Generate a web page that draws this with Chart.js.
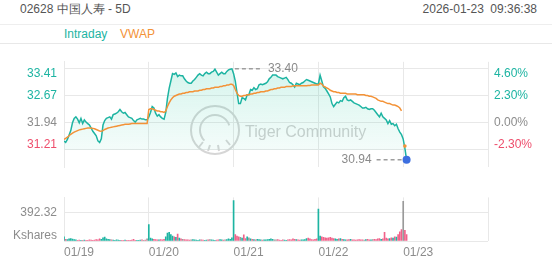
<!DOCTYPE html>
<html>
<head>
<meta charset="utf-8">
<script src="https://cdn.jsdelivr.net/npm/chart.js@4.4.1/dist/chart.umd.min.js"></script>
<style>
  body { margin: 0; width: 552px; height: 265px; background: #fff; position: relative; overflow: hidden;
         font-family: "Liberation Sans", Arial, sans-serif; }
  .rule { position: absolute; left: 0; width: 552px; height: 1px; }
  .txt { position: absolute; font-size: 12px; line-height: 14px; white-space: nowrap; }
  #price { position: absolute; left: 0; top: 44px; }
  #vol { position: absolute; left: 0; top: 185px; }
</style>
</head>
<body>
<div class="txt" style="left:20px;top:2px;color:#555">02628 中国人寿 - 5D</div>
<div class="txt" style="right:15px;top:2px;color:#555;word-spacing:3px">2026-01-23 09:36:38</div>
<div class="rule" style="top:24px;background:#eee"></div>
<div class="txt" style="left:64px;top:27px;color:#1db4a2">Intraday</div>
<div class="txt" style="left:120px;top:27px;color:#f39237">VWAP</div>
<div class="rule" style="top:43px;background:#e8e8e8"></div>
<canvas id="price" width="552" height="141"></canvas>
<canvas id="vol" width="552" height="80"></canvas>
<script>
const dayLabels = ['01/19', '01/20', '01/21', '01/22', '01/23'];
const prevClose = 31.94;
const pctTicks = [-2.3, 0, 2.3, 4.6];
const volumeTick = 392.32;
// side of the opening bar of each day
const openSide = ['up', 'up', 'up', 'up', 'flat'];

// 50 slots per day
const intraday = [
  // 01/19
  31.45, 31.41, 31.49, 31.61, 31.73, 31.94, 32.06, 32.10, 32.04, 31.94,
  32.06, 31.92, 32.02, 31.96, 31.92, 31.88, 31.80, 31.71, 31.65, 31.59,
  31.45, 31.41, 31.51, 31.88, 32.00, 32.06, 32.08, 32.10, 32.04, 32.16,
  32.18, 32.20, 32.24, 32.30, 32.24, 32.20, 32.22, 32.16, 32.10, 32.08,
  32.06, 32.00, 31.96, 32.02, 32.04, 32.06, 32.04, 32.04, 32.02, 32.02,
  // 01/20
  32.10, 32.22, 32.38, 32.34, 32.20, 32.12, 32.16, 32.10, 32.06, 32.04,
  32.22, 32.60, 32.87, 33.07, 33.27, 33.25, 33.29, 33.19, 33.23, 33.21,
  33.21, 33.13, 33.07, 33.03, 33.01, 33.01, 33.07, 33.11, 33.17, 33.23,
  33.27, 33.23, 33.21, 33.27, 33.31, 33.27, 33.27, 33.31, 33.33, 33.39,
  33.31, 33.23, 33.27, 33.31, 33.27, 33.27, 33.33, 33.37, 33.39, 33.40,
  // 01/21
  33.27, 33.07, 32.76, 32.46, 32.46, 32.62, 32.60, 32.56, 32.70, 32.70,
  32.84, 32.82, 32.89, 32.84, 32.86, 32.97, 32.99, 32.97, 32.99, 33.01,
  33.05, 33.13, 33.17, 33.23, 33.23, 33.23, 33.19, 33.17, 33.15, 33.13,
  33.15, 33.17, 33.11, 33.03, 33.01, 32.97, 32.91, 33.01, 32.99, 32.97,
  33.01, 33.03, 33.07, 33.11, 33.09, 33.07, 33.05, 33.03, 33.01, 32.99,
  // 01/22
  32.99, 33.23, 33.07, 32.91, 32.87, 32.80, 32.72, 32.64, 32.46, 32.38,
  32.44, 32.50, 32.48, 32.54, 32.52, 32.62, 32.66, 32.56, 32.54, 32.56,
  32.52, 32.48, 32.46, 32.44, 32.42, 32.38, 32.34, 32.34, 32.36, 32.32,
  32.30, 32.32, 32.32, 32.28, 32.22, 32.16, 32.10, 32.20, 32.10, 32.06,
  32.02, 31.92, 32.00, 31.90, 31.92, 31.86, 31.90, 31.78, 31.69, 31.62,
  // 01/23
  31.50, 31.25, 30.94
];

const vwap = [
  31.49, 31.52, 31.55, 31.59, 31.63, 31.66, 31.69, 31.71, 31.73, 31.75,
  31.76, 31.77, 31.78, 31.79, 31.80, 31.80, 31.80, 31.79, 31.78, 31.76,
  31.74, 31.72, 31.71, 31.73, 31.76, 31.78, 31.80, 31.81, 31.82, 31.83,
  31.84, 31.85, 31.86, 31.87, 31.88, 31.89, 31.90, 31.90, 31.90, 31.91,
  31.92, 31.92, 31.92, 31.92, 31.92, 31.92, 31.92, 31.92, 31.92, 31.92,

  32.30, 32.32, 32.32, 32.30, 32.28, 32.26, 32.26, 32.24, 32.24, 32.22,
  32.26, 32.38, 32.48, 32.56, 32.62, 32.66, 32.68, 32.70, 32.72, 32.72,
  32.74, 32.74, 32.76, 32.76, 32.78, 32.78, 32.78, 32.80, 32.80, 32.80,
  32.82, 32.82, 32.84, 32.84, 32.86, 32.86, 32.86, 32.88, 32.88, 32.90,
  32.90, 32.90, 32.92, 32.92, 32.94, 32.94, 32.96, 32.96, 32.98, 32.98,

  32.95, 32.84, 32.74, 32.68, 32.66, 32.66, 32.68, 32.68, 32.70, 32.70,
  32.72, 32.72, 32.74, 32.74, 32.76, 32.76, 32.78, 32.78, 32.78, 32.80,
  32.80, 32.82, 32.84, 32.84, 32.86, 32.86, 32.88, 32.88, 32.90, 32.90,
  32.90, 32.92, 32.92, 32.92, 32.92, 32.94, 32.94, 32.94, 32.94, 32.94,
  32.94, 32.94, 32.94, 32.94, 32.95, 32.95, 32.96, 32.96, 32.96, 32.96,

  32.96, 33.01, 32.99, 32.93, 32.91, 32.88, 32.86, 32.82, 32.80, 32.78,
  32.78, 32.76, 32.76, 32.74, 32.74, 32.74, 32.74, 32.72, 32.72, 32.72,
  32.72, 32.72, 32.72, 32.70, 32.70, 32.70, 32.70, 32.70, 32.68, 32.68,
  32.66, 32.66, 32.64, 32.62, 32.60, 32.56, 32.54, 32.52, 32.52, 32.50,
  32.48, 32.46, 32.46, 32.44, 32.42, 32.42, 32.40, 32.38, 32.34, 32.26,

  null, 31.31, null
];

// Kshares
const volume = [
  60, 25, 20, 30, 35, 28, 20, 15, 10, 12, 8, 10, 12, 8, 10, 15, 12, 10, 14, 20,
  18, 30, 25, 45, 55, 30, 25, 20, 15, 12, 10, 15, 12, 10, 8, 10, 12, 10, 8, 10,
  12, 25, 10, 8, 10, 12, 15, 10, 12, 30,

  229, 40, 30, 25, 20, 18, 15, 20, 18, 25, 60, 110, 120, 90, 70, 60, 50, 98, 40, 30,
  25, 20, 18, 15, 12, 15, 20, 15, 12, 10, 15, 18, 12, 10, 12, 15, 20, 15, 12, 10,
  12, 15, 20, 18, 12, 15, 20, 30, 25, 45,

  567, 90, 70, 60, 50, 40, 87, 35, 60, 45, 30, 25, 20, 18, 25, 20, 15, 12, 18, 15,
  20, 25, 30, 22, 18, 15, 20, 12, 10, 15, 12, 10, 15, 20, 18, 30, 25, 20, 15, 12,
  18, 15, 20, 35, 40, 30, 20, 15, 25, 30,

  447, 70, 60, 50, 45, 40, 45, 50, 40, 35, 30, 25, 30, 35, 25, 20, 18, 15, 20, 25,
  18, 15, 12, 15, 20, 18, 15, 12, 20, 25, 18, 15, 20, 25, 20, 30, 35, 25, 30, 120,
  40, 30, 35, 45, 40, 60, 55, 90, 130, 160,

  556, 150, 90
];

const SLOTS = 50;
const TEAL = '#1db4a2', RED = '#ee4e6c', GREY = '#8c8c8c', ORANGE = '#f39237', GRID = '#e8e8e8';
const FONT = '"Liberation Sans", Arial, sans-serif';
Chart.defaults.font.family = FONT;
Chart.defaults.font.size = 12;

const lastIdx = intraday.length - 1;
const xMax = dayLabels.length * SLOTS;
const dayTicks = dayLabels.map((d, i) => i * SLOTS).concat([xMax]);
const priceTicks = pctTicks.map(p => prevClose * (1 + p / 100));
const sideColor = s => s === 'up' ? TEAL : s === 'down' ? '#f0628a' : '#9a9a9a';
const tickColor = i => pctTicks[i] > 0 ? TEAL : pctTicks[i] < 0 ? RED : GREY;

function edgeLabel(text, i, n) {
  if (i === 0) return [text, ''];
  if (i === n - 1) return ['', text];
  return text;
}

function barColor(i) {
  if (i % SLOTS === 0) return sideColor(openSide[Math.floor(i / SLOTS)]);
  const d = intraday[i] - intraday[i - 1];
  return sideColor(d > 0 ? 'up' : d < 0 ? 'down' : 'flat');
}

const watermark = {
  id: 'watermark',
  beforeDatasetsDraw(chart) {
    const c = chart.ctx;
    c.save();
    c.strokeStyle = '#d6d6d6';
    c.lineWidth = 2;
    c.beginPath();
    c.arc(215, 86, 24, 0, Math.PI * 2);
    c.stroke();
    c.beginPath();
    c.arc(215, 86, 15, Math.PI * 0.75, Math.PI * 1.9);
    c.stroke();
    c.beginPath();
    c.moveTo(203, 98); c.lineTo(199, 103);
    c.moveTo(210, 101); c.lineTo(208, 107);
    c.moveTo(218, 101); c.lineTo(219, 107);
    c.moveTo(226, 96); c.lineTo(230, 101);
    c.stroke();
    c.fillStyle = '#d0d0d0';
    c.font = '16px ' + FONT;
    c.textBaseline = 'middle';
    c.fillText('Tiger Community', 245, 89);
    c.restore();
  }
};

const markers = {
  id: 'markers',
  afterDatasetsDraw(chart) {
    const { ctx: c, scales: { x, y } } = chart;
    let maxI = 0;
    intraday.forEach((v, i) => { if (v > intraday[maxI]) maxI = i; });
    c.save();
    c.strokeStyle = '#9e9e9e';
    c.lineWidth = 1.5;
    c.setLineDash([4, 3]);
    c.fillStyle = '#8a8a8a';
    c.font = '12px ' + FONT;
    c.textBaseline = 'middle';

    const mx = x.getPixelForValue(maxI), my = y.getPixelForValue(intraday[maxI]);
    c.beginPath(); c.moveTo(mx + 3, my); c.lineTo(mx + 31, my); c.stroke();
    c.textAlign = 'left';
    c.fillText(intraday[maxI].toFixed(2), mx + 36, my);

    const lx = x.getPixelForValue(lastIdx), ly = y.getPixelForValue(intraday[lastIdx]);
    c.beginPath(); c.moveTo(lx - 5, ly); c.lineTo(lx - 31, ly); c.stroke();
    c.textAlign = 'right';
    c.fillText(intraday[lastIdx].toFixed(2), lx - 35, ly);
    c.restore();
  }
};

const priceRange = { min: 30.74, max: 33.59 };

new Chart(document.getElementById('price'), {
  type: 'line',
  data: {
    datasets: [
      {
        label: 'VWAP',
        data: vwap.map((v, i) => ({ x: i, y: v })),
        borderColor: ORANGE,
        borderWidth: 1.5,
        pointRadius: ctx => {
          const i = ctx.dataIndex;
          return vwap[i] !== null && vwap[i - 1] == null && vwap[i + 1] == null ? 1.8 : 0;
        },
        pointBackgroundColor: ORANGE,
        pointBorderWidth: 0,
        spanGaps: false,
        fill: false,
        order: 1
      },
      {
        label: 'Intraday',
        data: intraday.map((v, i) => ({ x: i, y: v })),
        borderColor: TEAL,
        borderWidth: 1.5,
        fill: { value: priceTicks[0] },
        backgroundColor: ctx => {
          const { chart } = ctx;
          const area = chart.chartArea;
          if (!area) return 'rgba(40,200,160,0.1)';
          const bottom = chart.scales.y.getPixelForValue(priceTicks[0]);
          const g = chart.ctx.createLinearGradient(0, area.top, 0, bottom);
          g.addColorStop(0, 'rgba(40,200,160,0.2)');
          g.addColorStop(1, 'rgba(40,200,160,0.05)');
          return g;
        },
        pointRadius: ctx => ctx.dataIndex === lastIdx ? 4 : 0,
        pointBackgroundColor: '#3d6fe0',
        pointBorderWidth: 0,
        order: 2
      }
    ]
  },
  options: {
    responsive: false,
    animation: false,
    layout: { padding: 0 },
    plugins: { legend: { display: false }, tooltip: { enabled: false } },
    scales: {
      x: {
        type: 'linear', min: 0, max: xMax, offset: false,
        afterBuildTicks: s => { s.ticks = dayTicks.map(v => ({ value: v })); },
        ticks: { display: false },
        grid: { color: GRID, drawTicks: false, offset: false },
        border: { display: false }
      },
      y: {
        position: 'left', ...priceRange,
        afterFit: s => { s.width = 64; },
        afterBuildTicks: s => { s.ticks = priceTicks.map(v => ({ value: v })); },
        ticks: {
          padding: 7,
          font: { size: 12, lineHeight: 0.9 },
          color: ctx => tickColor(ctx.index),
          callback: (v, i) => edgeLabel(v.toFixed(2), i, priceTicks.length)
        },
        grid: { color: GRID, drawTicks: false },
        border: { color: GRID }
      },
      yPct: {
        position: 'right', ...priceRange,
        afterFit: s => { s.width = 64; },
        afterBuildTicks: s => { s.ticks = priceTicks.map(v => ({ value: v })); },
        ticks: {
          padding: 6,
          font: { size: 12, lineHeight: 0.9 },
          color: ctx => tickColor(ctx.index),
          callback: (v, i) => edgeLabel(pctTicks[i].toFixed(2) + '%', i, pctTicks.length)
        },
        grid: { display: false, drawTicks: false },
        border: { display: false }
      }
    }
  },
  plugins: [watermark, markers]
});

new Chart(document.getElementById('vol'), {
  type: 'bar',
  data: {
    datasets: [{
      data: volume.map((v, i) => ({ x: i, y: v })),
      backgroundColor: ctx => barColor(ctx.dataIndex),
      barThickness: 1
    }]
  },
  options: {
    responsive: false,
    animation: false,
    layout: { padding: { right: 64 } },
    plugins: { legend: { display: false }, tooltip: { enabled: false } },
    scales: {
      x: {
        type: 'linear', min: 0, max: xMax, offset: false,
        afterBuildTicks: s => { s.ticks = dayTicks.map(v => ({ value: v })); },
        afterFit: s => { s.height = 24; },
        ticks: {
          align: 'start', padding: 4, color: GREY,
          callback: v => dayLabels[v / SLOTS] || ''
        },
        grid: { color: GRID, drawTicks: false, offset: false },
        border: { display: false }
      },
      y: {
        min: 0, max: 610,
        afterFit: s => { s.width = 64; },
        afterBuildTicks: s => { s.ticks = [{ value: 0 }, { value: volumeTick }]; },
        ticks: {
          padding: 7, color: GREY,
          font: { size: 12, lineHeight: 0.9 },
          callback: v => v === 0 ? ['Kshares', ''] : v.toFixed(2)
        },
        grid: { color: GRID, drawTicks: false },
        border: { color: GRID }
      }
    }
  }
});
</script>
</body>
</html>
